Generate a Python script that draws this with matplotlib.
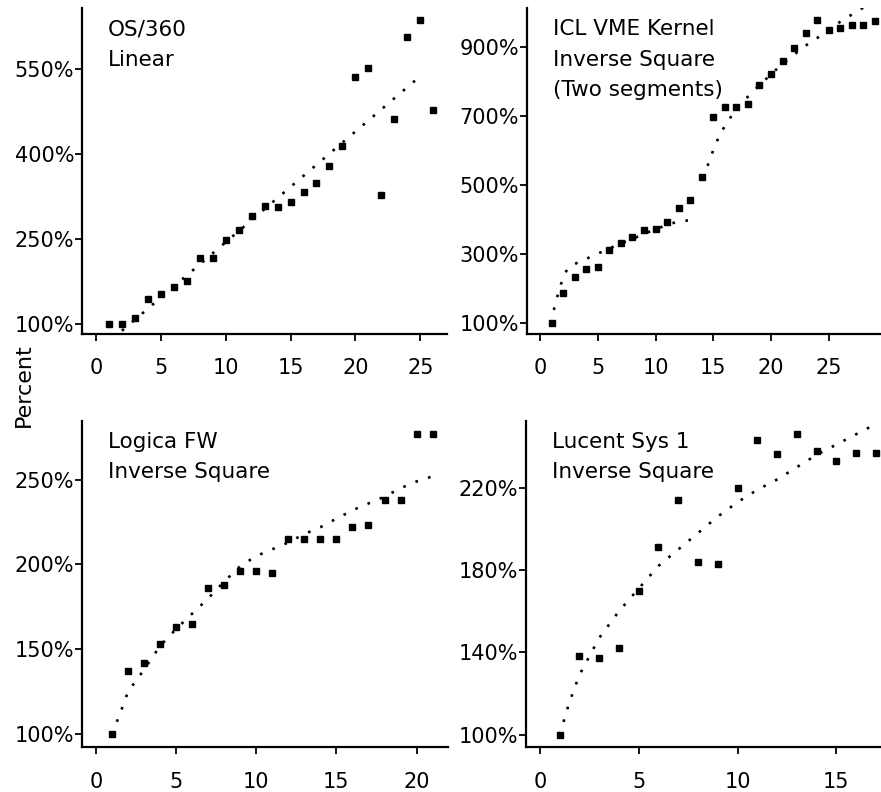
import matplotlib
matplotlib.use("Agg")
import matplotlib.pyplot as plt
from matplotlib.ticker import FuncFormatter

plt.rcParams['font.family'] = ['DejaVu Sans']

# OS/360, linear model
os_x = list(range(1, 27))
os_y = [100, 100, 110, 144, 152, 165, 175, 217, 217, 248, 266, 291, 308,
        306, 316, 332, 349, 378, 414, 535, 551, 328, 462, 606, 637, 477]
os_fit_x = [2, 25.2]
os_fit_y = [88, 541]

# ICL VME Kernel, inverse square in two segments
icl_x = list(range(1, 30))
icl_y = [100, 185, 233, 257, 262, 312, 332, 347, 369, 371, 393, 431, 456, 523,
         695, 724, 724, 734, 789, 821, 858, 895, 939, 977, 948, 953, 962, 962, 975]
icl_fit1_x = [0.9, 1.2, 1.65, 2, 2.4, 3, 4, 5, 6, 7, 8, 9, 10, 11, 12, 13]
icl_fit1_y = [100, 137, 195, 230, 258, 270, 285, 300, 315, 330, 342, 358, 370, 384, 393, 397]
icl_fit2_x = [14, 14.6, 15, 15.5, 16, 17, 18, 19, 20, 21, 22, 23, 24, 25, 26, 27, 28, 29]
icl_fit2_y = [520, 562, 600, 640, 670, 720, 755, 788, 820, 850, 877, 903, 925, 950, 972, 993, 1013, 1030]

# Logica FW, inverse square
log_x = list(range(1, 22))
log_y = [100, 137, 142, 153, 163, 165, 186, 188, 196, 196, 195, 215, 215, 215,
         215, 222, 223, 238, 238, 277, 277]
log_fit_x = [1, 1.5, 2, 3, 4, 5, 6, 7, 8, 9, 10, 11, 12, 13, 14, 15, 16, 17, 18, 19, 20, 21]
log_fit_y = [100, 112, 125, 138, 152, 162, 171, 180, 190, 199, 205, 209, 213, 218,
             222, 227, 232, 236, 240, 245, 249, 252]

# Lucent Sys 1, inverse square
luc_x = list(range(1, 18))
luc_y = [100, 138, 137, 142, 170, 191, 214, 184, 183, 220, 243, 236.5, 246, 238,
         233, 237, 237]
luc_fit_x = [1, 1.5, 2, 3, 4, 5, 6, 7, 8, 9, 10, 11, 12, 13, 14, 15, 16, 17]
luc_fit_y = [100, 116, 129, 147, 160, 171, 182, 190, 198, 206, 213, 219, 224, 230,
             236, 241, 246, 251]

W, H = 881.0, 792.0
fig = plt.figure(figsize=(W / 100, H / 100), dpi=100)


def make_axes(left, right, top, bottom):
    # pixel box -> figure fraction
    return fig.add_axes([left / W, 1 - bottom / H, (right - left) / W, (bottom - top) / H])


def style(ax, xlim, ylim, xticks, yticks, label):
    ax.set_xlim(*xlim)
    ax.set_ylim(*ylim)
    ax.set_xticks(xticks)
    ax.set_yticks(yticks)
    ax.yaxis.set_major_formatter(FuncFormatter(lambda v, p: "%d%%" % v))
    for s in ['top', 'right']:
        ax.spines[s].set_visible(False)
    for s in ['left', 'bottom']:
        ax.spines[s].set_linewidth(1.6)
    ax.tick_params(axis='both', direction='out', length=5, width=1.3, labelsize=15)
    ax.tick_params(axis='x', pad=13)
    ax.tick_params(axis='y', pad=0.5)
    ax.annotate(label, xy=(0, 1), xycoords='axes fraction', xytext=(19, -8),
                textcoords='offset points', ha='left', va='top', fontsize=15.5,
                linespacing=1.65)


def points(ax, x, y):
    ax.plot(x, y, linestyle='none', marker='s', markersize=4.5, color='black')


def fit(ax, x, y):
    ax.plot(x, y, linestyle=(0, (1, 4)), linewidth=1.9, color='black')


ax1 = make_axes(81.7, 447, 8.3, 333.5)
points(ax1, os_x, os_y)
fit(ax1, os_fit_x, os_fit_y)
style(ax1, (-1.1, 27.06), (83.2, 656.8), range(0, 26, 5), [100, 250, 400, 550],
      "OS/360\nLinear")

ax2 = make_axes(526.7, 881, 8.3, 333.5)
points(ax2, icl_x, icl_y)
fit(ax2, icl_fit1_x, icl_fit1_y)
fit(ax2, icl_fit2_x, icl_fit2_y)
style(ax2, (-1.15, 29.52), (68.7, 1011), range(0, 26, 5), [100, 300, 500, 700, 900],
      "ICL VME Kernel\nInverse Square\n(Two segments)")

ax3 = make_axes(81.7, 448, 420.7, 747.3)
points(ax3, log_x, log_y)
fit(ax3, log_fit_x, log_fit_y)
style(ax3, (-0.89, 21.96), (92.2, 284.8), range(0, 21, 5), [100, 150, 200, 250],
      "Logica FW\nInverse Square")

ax4 = make_axes(525.5, 881, 420.7, 746.7)
points(ax4, luc_x, luc_y)
fit(ax4, luc_fit_x, luc_fit_y)
style(ax4, (-0.73, 17.26), (94.1, 252.6), range(0, 16, 5), [100, 140, 180, 220],
      "Lucent Sys 1\nInverse Square")

fig.text(24 / W, 1 - 385 / H, "Percent", rotation=90, ha='center', va='center', fontsize=16)

fig.savefig("out.png", dpi=100)
